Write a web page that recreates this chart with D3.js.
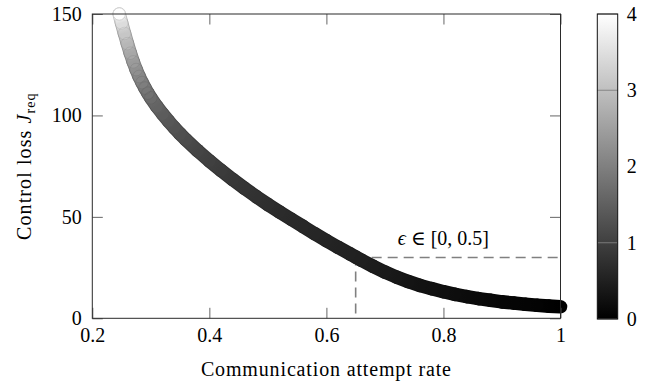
<!DOCTYPE html>
<html>
<head>
<meta charset="utf-8">
<script src="https://cdn.jsdelivr.net/npm/d3@7"></script>
<style>
  html, body { margin: 0; padding: 0; background: #fff; }
  svg { display: block; }
  text { font-family: "Liberation Serif", "DejaVu Serif", serif; fill: #000; }
</style>
</head>
<body>
<svg id="chart" width="659" height="384"></svg>
<script>
// ---- data ----
const rate = [1.00,0.98,0.96,0.94,0.92,0.90,0.88,0.86,0.84,0.82,0.80,0.78,0.76,0.74,0.72,0.70,0.68,0.66,0.65,0.64,0.62,0.60,0.58,0.56,0.54,0.52,0.50,0.48,0.46,0.44,0.42,0.40,0.38,0.36,0.35,0.34,0.33,0.32,0.31,0.30,0.295,0.29,0.285,0.28,0.275,0.27,0.265,0.26,0.255,0.25,0.246];
const loss = [5.7,6.0,6.4,6.9,7.5,8.1,8.9,9.7,10.7,11.8,13.1,14.6,16.2,18.1,20.3,22.8,25.6,28.6,30.2,31.8,35.0,38.3,41.7,45.3,48.8,52.4,56.1,60.0,64.1,68.4,72.9,77.6,82.6,88.0,90.9,94.0,97.3,100.8,104.5,108.7,111.0,113.5,116.2,119.2,122.6,126.4,130.7,135.4,140.4,145.6,150.0];
const eps  = [0,0.02,0.04,0.06,0.08,0.10,0.12,0.15,0.17,0.20,0.23,0.26,0.29,0.32,0.36,0.40,0.44,0.48,0.50,0.51,0.54,0.56,0.59,0.62,0.65,0.68,0.72,0.77,0.82,0.87,0.93,1.0,1.09,1.19,1.24,1.30,1.37,1.45,1.55,1.68,1.77,1.87,1.98,2.10,2.25,2.42,2.62,2.85,3.10,3.45,4.0];
const xTicks = [0.2,0.4,0.6,0.8,1];
const xTickLabels = ["0.2","0.4","0.6","0.8","1"];
const yTicks = [0,50,100,150];
const cTicks = [0,1,2,3,4];
const epsMark = {rate: 0.65, loss: 30};
const annotation = "[0, 0.5]";

// ---- layout ----
const L = 92.3, R = 560.5, T = 14, B = 318.3;
const CB = {x0: 597.3, x1: 617.7};
const FONT = '"Liberation Serif", "DejaVu Serif", serif';
const svg = d3.select("#chart");

const x = d3.scaleLinear().domain([0.2, 1]).range([L, R]);
const y = d3.scaleLinear().domain([0, 150]).range([B, T]);
const cScale = d3.scaleLinear().domain([0, 4]).range(["#000000", "#ffffff"]);
const cbY = d3.scaleLinear().domain([0, 4]).range([B + 0.7, T]);

const defs = svg.append("defs");

// dashed guide lines (under the scatter)
svg.append("line")
  .attr("x1", x(epsMark.rate)).attr("x2", x(epsMark.rate))
  .attr("y1", y(epsMark.loss)).attr("y2", y(0))
  .attr("stroke", "#808080").attr("stroke-width", 1.6)
  .attr("stroke-dasharray", "10,6").attr("stroke-dashoffset", 2);
svg.append("line")
  .attr("x1", x(epsMark.rate)).attr("x2", x(1))
  .attr("y1", y(epsMark.loss)).attr("y2", y(epsMark.loss))
  .attr("stroke", "#808080").attr("stroke-width", 1.6)
  .attr("stroke-dasharray", "10,6");

// scatter band: segments with gradients between consecutive points
const pts = rate.map((r, i) => ({px: x(r), py: y(loss[i]), c: cScale(eps[i])}));
const segs = d3.range(pts.length - 1).map(i => ({a: pts[i], b: pts[i + 1], i}));
const darker = c => d3.interpolateRgb(c, "#000")(0.2);

segs.forEach(s => {
  const g = defs.append("linearGradient").attr("id", "g" + s.i)
    .attr("gradientUnits", "userSpaceOnUse")
    .attr("x1", s.a.px).attr("y1", s.a.py).attr("x2", s.b.px).attr("y2", s.b.py);
  g.append("stop").attr("offset", 0).attr("stop-color", s.a.c);
  g.append("stop").attr("offset", 1).attr("stop-color", s.b.c);
  const h = defs.append("linearGradient").attr("id", "h" + s.i)
    .attr("gradientUnits", "userSpaceOnUse")
    .attr("x1", s.a.px).attr("y1", s.a.py).attr("x2", s.b.px).attr("y2", s.b.py);
  h.append("stop").attr("offset", 0).attr("stop-color", darker(s.a.c));
  h.append("stop").attr("offset", 1).attr("stop-color", darker(s.b.c));
});

const band = svg.append("g");
band.selectAll("line.outer").data(segs).join("line").attr("class", "outer")
  .attr("x1", d => d.a.px).attr("y1", d => d.a.py)
  .attr("x2", d => d.b.px).attr("y2", d => d.b.py)
  .attr("stroke", d => `url(#h${d.i})`).attr("stroke-width", 13.6)
  .attr("stroke-linecap", "round");
band.selectAll("line.inner").data(segs).join("line").attr("class", "inner")
  .attr("x1", d => d.a.px).attr("y1", d => d.a.py)
  .attr("x2", d => d.b.px).attr("y2", d => d.b.py)
  .attr("stroke", d => `url(#g${d.i})`).attr("stroke-width", 11.8)
  .attr("stroke-linecap", "round");
// faint marker rings in the light upper part (as the overlapping scatter markers show)
band.selectAll("circle.ring").data(pts.filter((p, i) => eps[i] >= 1.6 && i < pts.length - 1))
  .join("circle").attr("class", "ring")
  .attr("cx", d => d.px).attr("cy", d => d.py).attr("r", 6.3)
  .attr("fill", "none").attr("stroke", d => darker(d.c)).attr("stroke-width", 0.6)
  .attr("stroke-opacity", 0.5);
// last (top) marker drawn on top
const lastPt = pts[pts.length - 1];
band.append("circle").attr("cx", lastPt.px).attr("cy", lastPt.py).attr("r", 6.2)
  .attr("fill", lastPt.c).attr("stroke", darker(lastPt.c)).attr("stroke-width", 0.9);

// ---- axes ----
const axisCol = "#2a2a2a";
const axB = svg.append("g").attr("transform", `translate(0,${B})`)
  .call(d3.axisBottom(x).tickValues(xTicks).tickFormat((d, i) => xTickLabels[i]).tickSize(-10.5).tickPadding(10));
const axT = svg.append("g").attr("transform", `translate(0,${T})`)
  .call(d3.axisTop(x).tickValues(xTicks).tickFormat("").tickSize(-10.5));
const axL = svg.append("g").attr("transform", `translate(${L},0)`)
  .call(d3.axisLeft(y).tickValues(yTicks).tickFormat(d3.format("d")).tickSize(-10.5).tickPadding(10.5));
const axR = svg.append("g").attr("transform", `translate(${R},0)`)
  .call(d3.axisRight(y).tickValues(yTicks).tickFormat("").tickSize(-10.5));
[axB, axT, axL, axR].forEach(g => {
  g.attr("font-family", null).attr("font-size", null);
  g.select(".domain").remove();
  g.selectAll(".tick line").attr("stroke", "#555").attr("stroke-width", 0.9);
  g.selectAll("text").style("font-family", FONT).style("font-size", "20px").attr("fill", "#000");
});
svg.append("rect").attr("x", L).attr("y", T).attr("width", R - L).attr("height", B - T)
  .attr("fill", "none").attr("stroke", axisCol).attr("stroke-width", 1);

// axis labels
svg.append("text").attr("x", (L + R) / 2).attr("y", 376).attr("text-anchor", "middle")
  .style("font-family", FONT).style("font-size", "20px").style("letter-spacing", "0.85px")
  .text("Communication attempt rate");
const yl = svg.append("text").attr("transform", `translate(31,${(T + B) / 2}) rotate(-90)`)
  .attr("text-anchor", "middle").style("font-family", FONT).style("font-size", "20px")
  .style("letter-spacing", "1.1px");
yl.append("tspan").text("Control loss ");
yl.append("tspan").attr("font-style", "italic").text("J");
yl.append("tspan").style("font-size", "14px").attr("dy", 4).text("req");

// annotation
const an = svg.append("text").attr("x", x(0.8)).attr("y", 245).attr("text-anchor", "middle")
  .style("font-family", FONT).style("font-size", "20px");
an.append("tspan").attr("font-style", "italic").text("\u03F5");
an.append("tspan").text(" \u2208 " + annotation);

// ---- colorbar ----
const cg = defs.append("linearGradient").attr("id", "cbar")
  .attr("x1", 0).attr("y1", 1).attr("x2", 0).attr("y2", 0);
cg.append("stop").attr("offset", 0).attr("stop-color", cScale(0));
cg.append("stop").attr("offset", 1).attr("stop-color", cScale(4));
svg.append("rect").attr("x", CB.x0).attr("y", cbY(4)).attr("width", CB.x1 - CB.x0)
  .attr("height", cbY(0) - cbY(4)).attr("fill", "url(#cbar)");
svg.selectAll("line.ct").data(cTicks).join("line").attr("class", "ct")
  .attr("x1", CB.x0).attr("x2", CB.x1).attr("y1", d => cbY(d)).attr("y2", d => cbY(d))
  .attr("stroke", "#808080").attr("stroke-width", 0.9);
svg.append("rect").attr("x", CB.x0).attr("y", cbY(4)).attr("width", CB.x1 - CB.x0)
  .attr("height", cbY(0) - cbY(4)).attr("fill", "none").attr("stroke", "#111").attr("stroke-width", 1);
const cax = svg.append("g").attr("transform", `translate(${CB.x1},0)`)
  .call(d3.axisRight(cbY).tickValues(cTicks).tickFormat(d3.format("d")).tickSize(0).tickPadding(9));
cax.attr("font-family", null).attr("font-size", null);
cax.select(".domain").remove();
cax.selectAll("text").style("font-family", FONT).style("font-size", "20px").attr("fill", "#000");
</script>
</body>
</html>
